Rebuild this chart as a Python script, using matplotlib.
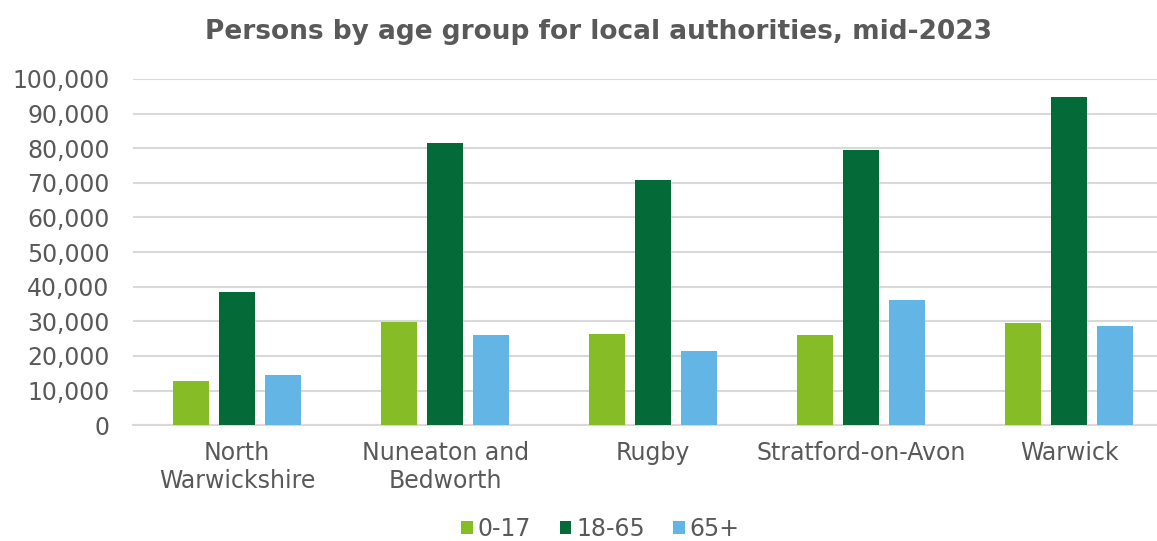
import numpy as np
import matplotlib
matplotlib.use('Agg')
import matplotlib.pyplot as plt
from matplotlib.ticker import FuncFormatter

areas = ["North\nWarwickshire", "Nuneaton and\nBedworth", "Rugby",
         "Stratford-on-Avon", "Warwick"]
age_groups = ["0-17", "18-65", "65+"]
kids = [12700, 29900, 26400, 26200, 29400]
working = [38600, 81400, 70800, 79400, 94700]
older = [14600, 26200, 21300, 36300, 28700]

colores = ["#86bc25", "#046a38", "#62b5e5"]
gris = "#595959"

plt.rcParams['font.family'] = ['DejaVu Sans']

fig = plt.figure(figsize=(11.57, 5.41), dpi=100)
# el eje se sale un poco por la derecha, las lineas llegan al borde
ax = fig.add_axes([0.115, 0.214, 0.899, 0.64])

x = np.arange(len(areas))
w = 0.175
sep = 0.221
for i, (vals, lab) in enumerate(zip([kids, working, older], age_groups)):
    ax.bar(x + (i - 1) * sep, vals, w, color=colores[i], label=lab, zorder=3)

ax.set_xlim(-0.5, len(areas) - 0.5)
ax.set_ylim(0, 100000)
ax.set_yticks(np.arange(0, 100001, 10000))
ax.yaxis.set_major_formatter(FuncFormatter(lambda v, p: f"{int(v):,}"))
ax.set_xticks(x)
ax.set_xticklabels(areas, linespacing=1.25)

ax.grid(axis='y', color='#d9d9d9', linewidth=1.5, zorder=0)
for s in ['top', 'right', 'left']:
    ax.spines[s].set_visible(False)
ax.spines['bottom'].set_color('#d9d9d9')
ax.spines['bottom'].set_linewidth(1.5)
ax.tick_params(axis='both', length=0, labelsize=17, labelcolor=gris)
ax.tick_params(axis='y', pad=17)
ax.tick_params(axis='x', pad=11)

fig.suptitle("Persons by age group for local authorities, mid-2023",
             x=0.517, y=0.965, fontsize=19, fontweight='bold', color=gris)

leg = fig.legend(loc='center', bbox_to_anchor=(0.519, 0.022), ncol=3,
                 frameon=False, fontsize=17, handlelength=0.5,
                 handleheight=0.5, handletextpad=0.2, columnspacing=1.2)
for t in leg.get_texts():
    t.set_color(gris)

plt.savefig("out.png", dpi=100)
